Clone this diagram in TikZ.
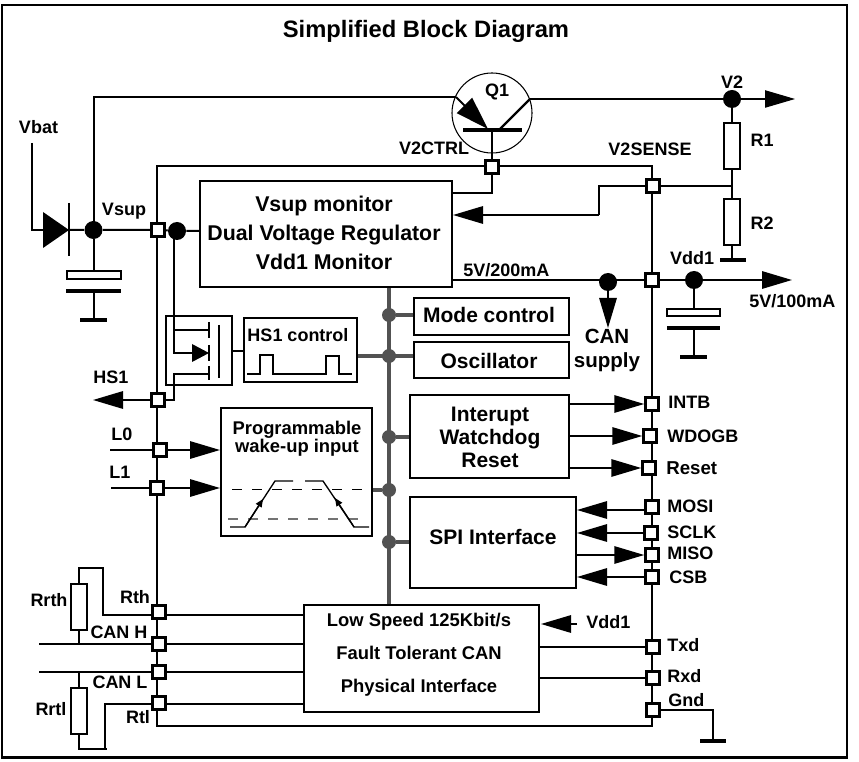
\documentclass[tikz,border=0pt]{standalone}
\usepackage{fontspec}
\setmainfont{Liberation Sans}
\usetikzlibrary{arrows.meta,backgrounds}
\newcommand\blk[6]{\node[blk,minimum width={(#4-#2)*0.75pt},minimum height={(#5-#3)*0.75pt}] (#1) at ({(#2+#4)/2},{(#3+#5)/2}) {#6};}
\tikzset{
  wire/.style={line width=1.5pt,line join=miter},
  thin wire/.style={line width=0.85pt},
  thick bar/.style={line width=2.4pt},
  bus/.style={line width=2.6pt,draw=busgrey},
  blk/.style={draw,line width=1.5pt,inner sep=0pt},
  pin/.style={draw,fill=white,line width=2.1pt,minimum size=9.5pt,inner sep=0pt},
  dot/.style={circle,fill=black,minimum size=13.5pt,inner sep=0pt},
  busdot/.style={circle,fill=busgrey,minimum size=10.5pt,inner sep=0pt},
  lbl/.style={inner sep=0pt,font=\fontsize{13.5pt}{16pt}\selectfont\bfseries,align=center},
  big/.style={inner sep=0pt,font=\fontsize{15.75pt}{17.3pt}\selectfont\bfseries,align=center},
  bigarrow/.style={wire,-{Triangle[length=22.5pt,width=13pt]}},
  res/.style={draw,line width=1.5pt,minimum width=11.5pt,minimum height=34.5pt,inner sep=0pt},
}
\colorlet{busgrey}{black!68}
\begin{document}
\begin{tikzpicture}[x=0.75pt,y=-0.75pt]
\useasboundingbox (0,0) rectangle (859,762);
% blocks
\blk{regbox}{200}{181}{452}{287}{}
\blk{modebox}{414}{298}{569}{335}{}
\blk{oscbox}{414}{342}{569}{378}{}
\blk{fetbox}{166}{316}{232}{385}{}
\blk{hsbox}{244}{318}{357}{382}{}
\blk{intbox}{410}{395}{569}{478}{}
\blk{spibox}{410}{497}{576}{588}{}
\blk{wakebox}{221}{408}{372}{536}{}
\blk{canbox}{304}{605}{539}{712}{}
% texts
\node[big,font=\fontsize{17.8pt}{20pt}\selectfont\bfseries] (title) at (426,31) {Simplified Block Diagram};
\node[big,font=\fontsize{16pt}{21.75pt}\selectfont\bfseries] (regtxt) at (324,233) {Vsup monitor\\Dual Voltage Regulator\\Vdd1 Monitor};
\node[big] (modetxt) at (489,315) {Mode control};
\node[big] (osctxt) at (489,361) {Oscillator};
\node[big] (inttxt) at (490,437) {Interupt\\Watchdog\\Reset};
\node[big] (spitxt) at (493,537) {SPI Interface};
\node[lbl] (hstxt) at (298,335) {HS1 control};
\node[lbl,font=\fontsize{13.8pt}{13.5pt}\selectfont\bfseries] (waketxt) at (297,439) {Programmable\\wake-up input};
\node[lbl,font=\fontsize{13.8pt}{24.75pt}\selectfont\bfseries] (cantxt) at (419,655) {Low Speed 125Kbit/s\\Fault Tolerant CAN\\Physical Interface};
\node[lbl] at (38.5,127) {Vbat};
\node[lbl] at (124,211) {Vsup};
\node[lbl] at (497,92) {Q1};
\node[lbl] at (434,148) {V2CTRL};
\node[lbl] at (650,149) {V2SENSE};
\node[lbl] at (732,82) {V2};
\node[lbl] at (762,140) {R1};
\node[lbl] at (762,223) {R2};
\node[lbl] at (692,258) {Vdd1};
\node[lbl,anchor=west] at (463,270) {5V/200mA};
\node[lbl,anchor=west] at (749,301) {5V/100mA};
\node[big,font=\fontsize{15.4pt}{18pt}\selectfont\bfseries] at (607,350) {CAN\\supply};
\node[lbl] at (111,377) {HS1};
\node[lbl] at (122,434) {L0};
\node[lbl] at (120,472) {L1};
\node[lbl] at (49,600) {Rrth};
\node[lbl] at (135,597) {Rth};
\node[lbl] at (119,632) {CAN H};
\node[lbl] at (120,682) {CAN L};
\node[lbl] at (51,709) {Rrtl};
\node[lbl] at (138,717) {Rtl};
\node[lbl,anchor=west] at (668,402) {INTB};
\node[lbl,anchor=west] at (667,436) {WDOGB};
\node[lbl,anchor=west,font=\fontsize{14pt}{16pt}\selectfont\bfseries] at (666,468) {Reset};
\node[lbl,anchor=west] at (667,506) {MOSI};
\node[lbl,anchor=west] at (667,532) {SCLK};
\node[lbl,anchor=west] at (667,553) {MISO};
\node[lbl,anchor=west] at (669,577) {CSB};
\node[lbl,anchor=west] at (586,622) {Vdd1};
\node[lbl,anchor=west] at (667,645) {Txd};
\node[lbl,anchor=west] at (667,676) {Rxd};
\node[lbl,anchor=west] at (668,700) {Gnd};
% pins
\node[pin] (pVsup) at (158,230) {};
\node[pin] (pCtrl) at (492,167) {};
\node[pin] (pSense) at (653,186) {};
\node[pin] (pVdd) at (652,280) {};
\node[pin] (pHS) at (158,400) {};
\node[pin] (pL0) at (160,450) {};
\node[pin] (pL1) at (157,488) {};
\node[pin] (pRth) at (159,612) {};
\node[pin] (pCanH) at (159,644) {};
\node[pin] (pCanL) at (159,672) {};
\node[pin] (pRtl) at (159,703) {};
\node[pin] (pInt) at (652,404) {};
\node[pin] (pWd) at (650,436) {};
\node[pin] (pRst) at (649,468) {};
\node[pin] (pMosi) at (652,507) {};
\node[pin] (pSclk) at (651,533) {};
\node[pin] (pMiso) at (652,555) {};
\node[pin] (pCsb) at (652,577) {};
\node[pin] (pTxd) at (653,647) {};
\node[pin] (pRxd) at (653,678) {};
\node[pin] (pGnd) at (653,710) {};
% dots
\node[dot] (dA) at (93.5,230) {};
\node[dot] (dB) at (177,231) {};
\node[dot] (dV2) at (732,99) {};
\node[dot] (dCan) at (608,282) {};
\node[dot] (dVdd) at (694,280) {};
\node[busdot] (b1) at (389,315) {};
\node[busdot] (b2) at (389,356) {};
\node[busdot] (b3) at (389,437) {};
\node[busdot] (b4) at (389,490) {};
\node[busdot] (b5) at (389,542) {};
% parts
\node[circle,draw,line width=0.8pt,minimum size=60pt,inner sep=0pt] (q1) at (492,113) {};
\node[res] (r1) at (732,146) {};
\node[res] (r2) at (732,222) {};
\node[res] (rth) at (79,606.5) {};
\node[res] (rtl) at (79,711) {};
% free ends
\coordinate (vbatTop) at (32,143);
\coordinate (diodeBase) at (43,230);
\coordinate (diodeTip) at (69,230);
\coordinate (qEm) at (456,97);
\coordinate (qTip) at (488,129);
\coordinate (qBase) at (492,130);
\coordinate (qCol) at (499,130);
\coordinate (qOut) at (530,99);
\coordinate (v2End) at (795,99);
\coordinate (vddEnd) at (792,280);
\coordinate (canEnd) at (608,328);
\coordinate (senseJ) at (732,186);
\coordinate (g1) at (732,260);
\coordinate (c1top) at (93.5,271);
\coordinate (c1bot) at (93.5,291);
\coordinate (g2) at (93.5,320);
\coordinate (c2top) at (694,309);
\coordinate (c2bot) at (694,328);
\coordinate (g3) at (694,357);
\coordinate (gndEnd) at (713,741);
\coordinate (vddTail) at (577,624);
\coordinate (vddTip) at (541,624);
\coordinate (L0end) at (110,450);
\coordinate (L1end) at (111,488);
\coordinate (hsTip) at (93,400);
\coordinate (canHend) at (39,644);
\coordinate (canLend) at (39,672);
\begin{scope}[on background layer]
% frame
\draw[line width=1.6pt] (2,5) rectangle (847,757.5);
% chip outline
\draw[wire] (157,230) -- (157,166) -- (652,166) -- (652,726) -- (157,726) -- (157,230);
% Vbat & diode
\draw[wire] (vbatTop) -- (32,230) -- (diodeBase);
\fill (diodeBase |- 0,212) -- (diodeTip) -- (diodeBase |- 0,248) -- cycle;
\draw[wire,line width=1.8pt] (69,203) -- (69,256);
\draw[wire] (diodeTip) -- (dA) -- (pVsup) -- (dB) -- (regbox.west |- dB);
\draw[wire] (dA) |- (qEm);
\draw[wire] (dA) -- (c1top);
\draw[wire,line width=1.5pt] (67,271) rectangle (121,279);
\draw[thick bar] (66,291) -- (121,291);
\draw[wire] (c1bot) -- (g2);
\draw[thick bar] (80,320) -- (107,320);
% Q1
\draw[wire,-{Triangle[length=25pt,width=16pt]}] (qEm) -- (qTip);
\draw[thick bar] (463,130) -- (522,130);
\draw[wire,line width=1.8pt] (qCol) -- (qOut);
\draw[thin wire] (qOut) -- (dV2);
\draw[thin wire,-{Triangle[length=22.5pt,width=13pt]}] (dV2) -- (v2End);
\draw[thin wire] (qBase) -- (pCtrl);
\draw[thin wire] (pCtrl) |- (regbox.east |- 0,193);
% R divider
\draw[wire] (dV2) -- (r1);
\draw[wire] (r1) -- (r2);
\draw[wire] (r2) -- (g1);
\draw[thick bar] (720,260) -- (746,260);
\draw[wire] (senseJ) -- (pSense);
\draw[wire] (pSense) -- (599,186) -- (599,215);
\draw[bigarrow] (599,215) -- (regbox.east |- 0,215);
% Vdd
\draw[wire] (regbox.east |- pVdd) -- (pVdd) -- (dVdd);
\draw[bigarrow] (dVdd) -- (vddEnd);
\draw[bigarrow] (dCan) -- (canEnd);
\draw[wire] (dVdd) -- (c2top);
\draw[wire] (667,309) rectangle (720,316);
\draw[thick bar] (667,328) -- (720,328);
\draw[wire] (c2bot) -- (g3);
\draw[thick bar] (680,357) -- (707,357);
% bus
\draw[bus] (regbox.south -| b1) -- (canbox.north -| b1);
\draw[bus] (b1) -- (modebox.west |- b1);
\draw[bus] (hsbox.east |- b2) -- (oscbox.west |- b2);
\draw[bus] (b3) -- (intbox.west |- b3);
\draw[bus] (wakebox.east |- b4) -- (b4);
\draw[bus] (b5) -- (spibox.west |- b5);
% FET
\draw[wire] (174,231) -- (174,353) -- (192,353);
\fill (192,344) -- (209,353) -- (192,362) -- cycle;
\draw[wire] (174,330) -- (209,330);
\draw[wire] (pHS) -- (174,400) -- (174,374) -- (209,374);
\draw[thin wire] (209,322) -- (209,338) (209,345) -- (209,361) (209,366) -- (209,380);
\draw[wire] (219,325) -- (219,378);
\draw[wire] (fetbox.east |- 0,351) -- (hsbox.west |- 0,351);
\draw[wire] (247,374) -- (260,374) -- (260,355) -- (273,355) -- (273,374) -- (326,374) -- (326,356) -- (339,356) -- (339,374) -- (352,374);
% HS1, L0, L1
\draw[bigarrow] (pHS) -- (hsTip);
\draw[wire] (L0end) -- (pL0);
\draw[bigarrow] (pL0) -- (wakebox.west |- pL0);
\draw[wire] (L1end) -- (pL1);
\draw[bigarrow] (pL1) -- (wakebox.west |- pL1);
% wake-up graph
\draw[line width=0.6pt,dash pattern=on 7.5pt off 7.5pt] (232,489) -- (363,489);
\draw[line width=0.8pt,draw=black!55,dash pattern=on 7.5pt off 7.5pt] (228,519) -- (365,519);
\draw[line width=1pt,-{Triangle[length=6pt,width=5pt]}] (245,527) -- (263,499);
\draw[line width=1pt] (230,527) -- (245,527) -- (275,481) -- (293,481);
\draw[line width=1pt,-{Triangle[length=6pt,width=5pt]}] (354,527) -- (335,498);
\draw[line width=1pt] (305,481) -- (323,481) -- (354,527) -- (369,527);
% right pins
\draw[bigarrow] (intbox.east |- pInt) -- (pInt);
\draw[bigarrow] (intbox.east |- pWd) -- (pWd);
\draw[bigarrow] (intbox.east |- pRst) -- (pRst);
\draw[bigarrow] (pMosi.west |- 0,510) -- (spibox.east |- 0,510);
\draw[bigarrow] (pSclk) -- (spibox.east |- pSclk);
\draw[bigarrow] (spibox.east |- pMiso) -- (pMiso);
\draw[bigarrow] (pCsb) -- (spibox.east |- pCsb);
\draw[bigarrow] (vddTail) -- (vddTip);
\draw[wire] (canbox.east |- pTxd) -- (pTxd);
\draw[wire] (canbox.east |- pRxd) -- (pRxd);
\draw[thin wire] (pGnd) -| (gndEnd);
\draw[thick bar] (700,741) -- (726,741);
% CAN side
\draw[wire] (pRth.center |- 0,615) -- (canbox.west |- 0,615);
\draw[wire] (pRth.center |- 0,615) -- (103,615) -- (103,568) -- (79,568) -- (rth);
\draw[wire] (rth) -- (79,644);
\draw[wire] (canHend) -- (canbox.west |- canHend);
\draw[wire] (canLend) -- (canbox.west |- canLend);
\draw[wire] (79,672) -- (rtl);
\draw[wire] (rtl) -- (79,749) -- (107,749);
\draw[wire] (105,749) -- (105,704) -- (canbox.west |- 0,704);
\end{scope}
\end{tikzpicture}
\end{document}
